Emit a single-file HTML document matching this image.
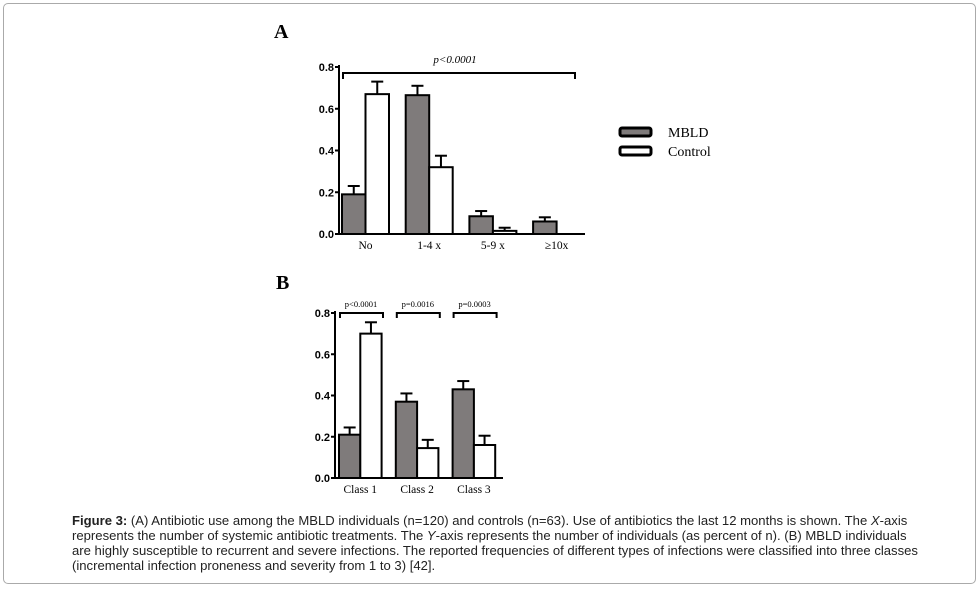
<!DOCTYPE html>
<html><head><meta charset="utf-8"><style>
body{margin:0;background:#fff;width:979px;height:590px;overflow:hidden;position:relative;font-family:"Liberation Sans",sans-serif}
#frame{position:absolute;left:3px;top:3px;width:971px;height:579px;border:1px solid #aaa;border-radius:5px}
#cap{position:absolute;left:72px;top:513px;font-size:13.1px;line-height:15px;color:#222;white-space:nowrap}
svg{position:absolute;left:0;top:0}
</style></head><body>
<div id="frame"></div>
<svg id="s" width="979" height="590" font-family="Liberation Serif, serif"></svg>
<div id="cap"><b>Figure 3:</b> (A) Antibiotic use among the MBLD individuals (n=120) and controls (n=63). Use of antibiotics the last 12 months is shown. The <i>X</i>-axis<br>represents the number of systemic antibiotic treatments. The <i>Y</i>-axis represents the number of individuals (as percent of n). (B) MBLD individuals<br>are highly susceptible to recurrent and severe infections. The reported frequencies of different types of infections were classified into three classes<br>(incremental infection proneness and severity from 1 to 3) [42].</div>
<script>
const catsA=["No","1-4 x","5-9 x","≥10x"];
const mbldA=[0.19,0.665,0.085,0.06];
const mbldErrA=[0.04,0.045,0.025,0.02];
const ctrlA=[0.67,0.32,0.015,0];
const ctrlErrA=[0.06,0.055,0.015,0];
const catsB=["Class 1","Class 2","Class 3"];
const mbldB=[0.21,0.37,0.43];
const mbldErrB=[0.035,0.04,0.04];
const ctrlB=[0.70,0.145,0.16];
const ctrlErrB=[0.055,0.04,0.045];
const pB=["p<0.0001","p=0.0016","p=0.0003"];
const ticks=[0,0.2,0.4,0.6,0.8];
const NS="http://www.w3.org/2000/svg",s=document.getElementById('s');
function el(t,a,txt){const e=document.createElementNS(NS,t);for(const k in a)e.setAttribute(k,a[k]);if(txt!=null)e.textContent=txt;s.appendChild(e);return e;}
function chart(o){
 const y=v=>o.y0-(v/0.8)*(o.y0-o.y8);
 const ax=el('line',{x1:o.ax,y1:o.y8-2,x2:o.ax,y2:o.y0,stroke:'#000','stroke-width':2});
 
 const xa=el('line',{x1:o.ax,y1:o.y0,x2:o.xend,y2:o.y0,stroke:'#000','stroke-width':2});
 
 ticks.forEach(t=>{
  el('line',{x1:o.ax-4,y1:y(t),x2:o.ax,y2:y(t),stroke:'#000','stroke-width':2});
  const tl=el('text',{x:o.ax-5,y:y(t)+4,'text-anchor':'end','font-family':'Liberation Sans, sans-serif','font-weight':'bold','font-size':11},t.toFixed(1));
  
 });
 o.cats.forEach((c,i)=>{
  const gx=o.x0+i*o.gw;
  [[o.m,o.me,'#7f7b7b',gx],[o.c,o.ce,'#fff',gx+o.bw]].forEach(([vals,errs,f,bx],j)=>{
   const v=vals[i];if(v<=0)return;
   const e=y(v+errs[i]);
   el('line',{x1:bx+o.bw/2,y1:y(v),x2:bx+o.bw/2,y2:e,stroke:'#000','stroke-width':2});
   el('line',{x1:bx+o.bw/2-6,y1:e,x2:bx+o.bw/2+6,y2:e,stroke:'#000','stroke-width':2});
   const r=el('rect',{x:bx,y:y(v),width:o.bw,height:o.y0-y(v),fill:f,stroke:'#000','stroke-width':2});
   
  });
  const l=el('text',{x:gx+o.bw+(o.lo||0),y:o.y0+15,'text-anchor':'middle','font-size':11.5},c);
  
 });
}
chart({id:'chart-a',ax:339,y0:234,y8:67,xend:585,x0:342,gw:63.7,bw:23.5,cats:catsA,m:mbldA,me:mbldErrA,c:ctrlA,ce:ctrlErrA,lo:0});
chart({id:'chart-b',ax:335,y0:478,y8:313,xend:503,x0:339,gw:56.8,bw:21.3,cats:catsB,m:mbldB,me:mbldErrB,c:ctrlB,ce:ctrlErrB});
function lbl(x,y,t,n){const e=el('text',{x:x,y:y,'font-weight':'bold','font-size':20},t);}
lbl(274,38,'A','panel-a-label');lbl(276,289,'B','panel-b-label');
el('path',{d:'M343,79 V73 H575 V79',fill:'none',stroke:'#000','stroke-width':2});
const pa=el('text',{x:455,y:63,'text-anchor':'middle','font-size':11,'font-style':'italic'},'p<0.0001');

pB.forEach((p,i)=>{
 const gx=339+i*56.8;
 const b=el('path',{d:`M${gx+1},318 V313 H${gx+44} V318`,fill:'none',stroke:'#000','stroke-width':2});
 
 const t=el('text',{x:gx+22,y:307,'text-anchor':'middle','font-size':8.5},p);
 
});
[['#7f7b7b','MBLD',132],['#fff','Control',151]].forEach(([f,t,yy],i)=>{
 const r=el('rect',{x:620,y:yy-4,width:31,height:8,rx:2,fill:f,stroke:'#000','stroke-width':3});
 
 const tx=el('text',{x:668,y:yy+5,'font-size':14},t);
 
});
</script>
</body></html>
